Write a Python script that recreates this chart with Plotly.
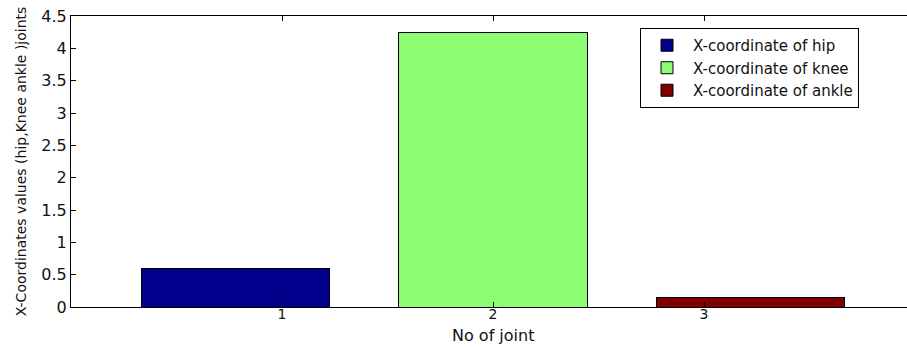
import plotly.graph_objects as go

# Data
joints = [1, 2, 3]
series_names = ["X-coordinate of hip", "X-coordinate of knee", "X-coordinate of ankle"]
values = [0.6, 4.25, 0.15]
colors = ["#00008C", "#8CFC74", "#800000"]
tick_labels = ["1", "2", "3"]
y_ticks = [0, 0.5, 1, 1.5, 2, 2.5, 3, 3.5, 4, 4.5]

FONT = "DejaVu Sans"

fig = go.Figure()
for j, name, v, c in zip(joints, series_names, values, colors):
    fig.add_trace(go.Bar(
        x=[j], y=[v], name=name,
        marker=dict(color=c, line=dict(color="black", width=1)),
    ))
# empty helper trace so the tick axis (x2) is drawn
fig.add_trace(go.Scatter(x=[], y=[], xaxis="x2", showlegend=False, hoverinfo="skip"))

fig.update_layout(
    width=907, height=347,
    margin=dict(l=71, r=0, t=16, b=40),
    paper_bgcolor="white", plot_bgcolor="white",
    barmode="stack", bargap=0.271,
    showlegend=True,
    font=dict(family=FONT, size=15, color="#111"),
    xaxis=dict(
        range=[0.364, 3.605],
        showticklabels=False, ticks="",
        showline=True, linecolor="black", linewidth=1, mirror=True,
        showgrid=False, zeroline=False,
    ),
    xaxis2=dict(
        overlaying="x", anchor="y", side="bottom",
        range=[0, 3.962], tickmode="array",
        tickvals=[float(t) for t in tick_labels], ticktext=tick_labels,
        ticks="inside", ticklen=5, tickcolor="black",
        showline=True, linecolor="black", linewidth=1, mirror="ticks",
        showgrid=False, zeroline=False,
        tickfont=dict(size=14), ticklabelstandoff=-6,
    ),
    yaxis=dict(
        range=[0, 4.5], tickmode="array", tickvals=y_ticks,
        ticktext=[f"{t:g}" for t in y_ticks],
        ticks="inside", ticklen=5, tickcolor="black",
        showline=True, linecolor="black", linewidth=1, mirror=False,
        showgrid=False, zeroline=False,
        title=dict(text="X-Coordinates values (hip,Knee ankle )joints", font=dict(size=14), standoff=11),
        tickfont=dict(size=16),
    ),
    legend=dict(
        x=0.9426, y=0.9588, xanchor="right", yanchor="top",
        bordercolor="black", borderwidth=1, bgcolor="white",
        font=dict(size=15), tracegroupgap=0, itemwidth=42,
        traceorder="normal",
    ),
    annotations=[dict(
        text="No of joint", xref="x2", x=2, yref="paper", y=0,
        yshift=-17, xanchor="center", yanchor="top", showarrow=False,
        font=dict(size=16, family=FONT, color="#111"),
    )],
)

fig.write_html(
    "out.html",
    config={"displayModeBar": False},
    post_script="document.body.style.margin='0';document.body.style.overflow='hidden';",
)
